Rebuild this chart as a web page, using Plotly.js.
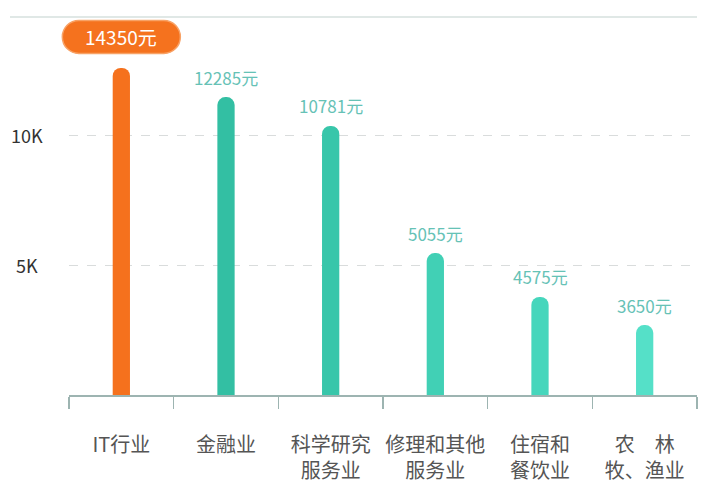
<!DOCTYPE html>
<html>
<head>
<meta charset="utf-8">
<script src="https://cdn.plot.ly/plotly-3.0.1.min.js"></script>
<style>
  html, body { margin: 0; padding: 0; background: #fff; }
  #chart { width: 710px; height: 493px; }
</style>
</head>
<body>
<div id="chart"></div>
<script>
// categories and values
var industries = ['IT行业', '金融业', '科学研究<br>服务业', '修理和其他<br>服务业', '住宿和<br>餐饮业', '农　林<br>牧、渔业'];
// bar heights as drawn against the axis (yuan)
var barHeights = [12580, 11460, 10350, 5460, 3770, 2690];
// value labels printed over the bars (yuan)
var labelValues = [14350, 12285, 10781, 5055, 4575, 3650];
var barColors = ['#f5711d', '#33bfa3', '#38c6aa', '#41d0b5', '#46d6bc', '#55e0c8'];
var yTickVals = [5000, 10000];
var yTickText = ['5K', '10K'];

var font = '"Noto Sans CJK SC", "Noto Sans", sans-serif';

var barTrace = {
    x: industries,
    y: barHeights,
    type: 'bar',
    width: 0.165,
    marker: {color: barColors, cornerradius: '50%'},
    hoverinfo: 'none'
};

// value labels (the highest one sits in an orange pill)
var annotations = [];
for (var i = 0; i < industries.length; i++) {
    var isMax = i === 0;
    annotations.push({
        x: industries[i],
        y: barHeights[i],
        xref: 'x',
        yref: 'y',
        text: labelValues[i] + '元',
        showarrow: false,
        yanchor: 'middle',
        yshift: isMax ? 31 : 20,
        font: {family: font, size: isMax ? 19 : 17, color: isMax ? '#ffffff' : '#66c2b6'}
    });
}
// y tick labels, centred like the original (placed from the left category edge)
for (var j = 0; j < yTickVals.length; j++) {
    annotations.push({
        x: -0.5,
        y: yTickVals[j],
        xref: 'x',
        yref: 'y',
        xshift: -42,
        xanchor: 'center',
        text: yTickText[j],
        showarrow: false,
        font: {family: font, size: 18, color: '#333333'}
    });
}

// rounded pill behind the top label, in paper units so it is not clipped
var plotW = 710 - 69 - 13, plotH = 493 - 5 - 98, yMax = 15000;
var pxX = 1 / plotW, pxY = 1 / plotH;
var cx = 0.5 / industries.length, cy = barHeights[0] / yMax + 31 * pxY;
var hw = 59 * pxX, hh = 16.5 * pxY, rx = 16.5 * pxX, k = 0.5523;
var x0 = cx - hw, x1 = cx + hw, yt = cy + hh, yb = cy - hh;
function p(x, y) { return x + ',' + y; }
var pill = 'M' + p(x0 + rx, yt) + ' L' + p(x1 - rx, yt) +
    ' C' + p(x1 - rx + k * rx, yt) + ' ' + p(x1, cy + k * hh) + ' ' + p(x1, cy) +
    ' C' + p(x1, cy - k * hh) + ' ' + p(x1 - rx + k * rx, yb) + ' ' + p(x1 - rx, yb) +
    ' L' + p(x0 + rx, yb) +
    ' C' + p(x0 + rx - k * rx, yb) + ' ' + p(x0, cy - k * hh) + ' ' + p(x0, cy) +
    ' C' + p(x0, cy + k * hh) + ' ' + p(x0 + rx - k * rx, yt) + ' ' + p(x0 + rx, yt) + ' Z';

var layout = {
    width: 710,
    height: 493,
    margin: {l: 69, r: 13, t: 5, b: 98},
    paper_bgcolor: '#ffffff',
    plot_bgcolor: '#ffffff',
    showlegend: false,
    xaxis: {
        type: 'category',
        range: [-0.5, industries.length - 0.5],
        automargin: false,
        showline: true,
        linecolor: '#9db4b1',
        linewidth: 1.5,
        ticks: 'outside',
        tickson: 'boundaries',
        ticklen: 12,
        tickwidth: 1.5,
        tickcolor: '#9db4b1',
        tickangle: 0,
        ticklabelstandoff: 31,
        showgrid: false,
        tickfont: {family: font, size: 20, color: '#555555'}
    },
    yaxis: {
        range: [0, yMax],
        automargin: false,
        tickvals: yTickVals,
        showticklabels: false,
        showline: false,
        zeroline: false,
        gridcolor: '#d9dcdc',
        griddash: 'dash',
        gridwidth: 1
    },
    annotations: annotations,
    shapes: [
        {type: 'path', xref: 'paper', yref: 'paper', path: pill,
         fillcolor: '#f5721e', line: {color: '#f8a266', width: 1.5}, layer: 'below'},
        {type: 'line', xref: 'paper', yref: 'paper', x0: -0.094, x1: 1.0, y0: 0.969, y1: 0.969,
         line: {color: '#d6e1de', width: 1.5}}
    ]
};

Plotly.newPlot('chart', [barTrace], layout, {displayModeBar: false, staticPlot: true});
</script>
</body>
</html>
